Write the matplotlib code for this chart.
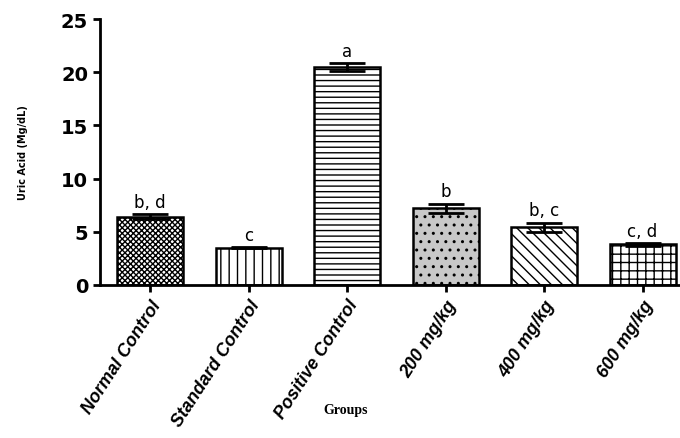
import numpy as np
import matplotlib
matplotlib.use('Agg')
import matplotlib.pyplot as plt

groups = ['Normal Control', 'Standard Control', 'Positive Control',
          '200 mg/kg', '400 mg/kg', '600 mg/kg']
means = [6.4, 3.5, 20.5, 7.2, 5.4, 3.8]
errors = [0.25, 0.05, 0.4, 0.45, 0.45, 0.15]
letters = ['b, d', 'c', 'a', 'b', 'b, c', 'c, d']
hatches = ['xxxxxx', '||', '---', '..', '\\\\\\', '++']
faces = ['white', 'white', 'white', '#c8c8c8', 'white', 'white']

plt.rcParams['hatch.linewidth'] = 1.0

fig = plt.figure(figsize=(6.8, 4.39), dpi=100)
ax = fig.add_axes([0.147, 0.349, 0.853, 0.605])

x = np.arange(len(groups))
bars = ax.bar(x, means, width=0.67, color=faces, edgecolor='black',
              linewidth=1.8, zorder=2)
for b, h in zip(bars, hatches):
    b.set_hatch(h)

ax.errorbar(x, means, yerr=errors, fmt='none', ecolor='black',
            elinewidth=2, capsize=13, capthick=2, zorder=3)

for xi, m, e, lab in zip(x, means, errors, letters):
    ax.text(xi, m + e + 0.3, lab, ha='center', va='bottom', fontsize=12)

ax.set_ylim(0, 25)
ax.set_xlim(-0.51, 5.38)
ax.set_yticks([0, 5, 10, 15, 20, 25])
ax.set_xticks(x)
ax.set_xticklabels(groups, rotation=57, ha='right', rotation_mode='anchor',
                   fontstyle='italic', fontweight='bold', fontsize=13,
                   family='Liberation Sans')
for lbl in ax.get_yticklabels():
    lbl.set_fontweight('bold')
    lbl.set_fontsize(14)

ax.spines['top'].set_visible(False)
ax.spines['right'].set_visible(False)
ax.spines['left'].set_linewidth(2)
ax.spines['bottom'].set_linewidth(2)
ax.tick_params(axis='both', width=2, length=5)

ax.set_ylabel('Uric Acid (Mg/dL)', fontsize=7, fontweight='bold', labelpad=24)
fig.text(0.508, 0.065, 'Groups', ha='center', va='center', fontsize=10,
         fontweight='bold', family='Liberation Serif')

fig.savefig('out.png', dpi=100)
